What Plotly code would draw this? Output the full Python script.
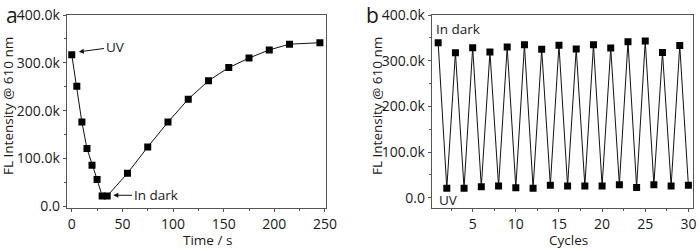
import plotly.graph_objects as go

# Panel a data
time_s = [0, 5, 10, 15, 20, 25, 30, 35, 55, 75, 95, 115, 135, 155, 175, 195, 215, 245]
fl_a = [317000, 251000, 176000, 121000, 86000, 56000, 21500, 21500, 69000, 124000,
        176000, 224000, 262500, 290000, 310000, 327000, 339000, 342000]

# Panel b data
cycles = list(range(1, 31))
fl_b = [339000, 20500, 317500, 20500, 328500, 24000, 319000, 25500, 330000, 22000,
        335000, 20500, 325000, 27000, 334000, 25500, 325500, 25500, 335000, 25500,
        328000, 28500, 341500, 22500, 343000, 28500, 318000, 25500, 333000, 27000]

ytickvals = [0, 100000, 200000, 300000, 400000]
yticktext = ["0.0", "100.0k", "200.0k", "300.0k", "400.0k"]
xticks_a = [0, 50, 100, 150, 200, 250]
xticks_b = [5, 10, 15, 20, 25, 30]

FONT = "Open Sans"
AX = "#555555"
TXT = "#1a1a1a"
W, H = 700, 251

fig = go.Figure()
fig.add_trace(go.Scatter(x=time_s, y=fl_a, mode="lines+markers",
                         line=dict(color="#111111", width=1),
                         marker=dict(symbol="square", size=7, color="#000000"),
                         xaxis="x", yaxis="y", showlegend=False))
fig.add_trace(go.Scatter(x=cycles, y=fl_b, mode="lines+markers",
                         line=dict(color="#111111", width=1),
                         marker=dict(symbol="square", size=7, color="#000000"),
                         xaxis="x2", yaxis="y2", showlegend=False))

axcommon = dict(showline=True, linecolor=AX, linewidth=1, mirror=True,
                ticks="outside", ticklen=3, tickcolor=AX, showgrid=False,
                zeroline=False, automargin=False,
                tickfont=dict(size=14, color=TXT, family=FONT))

fig.update_layout(
    width=W, height=H,
    margin=dict(l=0, r=0, t=0, b=0, pad=0, autoexpand=False),
    paper_bgcolor="white", plot_bgcolor="white",
    font=dict(family=FONT, size=13, color=TXT),
    xaxis=dict(domain=[66.7 / W, 326 / W], range=[-5, 251], tickvals=xticks_a,
               minor=dict(ticks="outside", dtick=25, tick0=0, ticklen=2, tickcolor=AX),
               anchor="y", **axcommon),
    yaxis=dict(domain=[1 - 207.7 / H, 1 - 15 / H], range=[-3000, 400000], tickvals=ytickvals,
               ticktext=yticktext,
               minor=dict(ticks="outside", dtick=50000, tick0=0, ticklen=2, tickcolor=AX),
               anchor="x", **axcommon),
    xaxis2=dict(domain=[431.7 / W, 692.7 / W], range=[0.25, 30.5], tickvals=xticks_b,
                minor=dict(ticks="outside", dtick=2.5, tick0=0, ticklen=2, tickcolor=AX),
                anchor="y2", **axcommon),
    yaxis2=dict(domain=[1 - 208 / H, 1 - 15 / H], range=[-22600, 400000], tickvals=ytickvals,
                ticktext=yticktext,
                minor=dict(ticks="outside", dtick=50000, tick0=0, ticklen=2, tickcolor=AX),
                anchor="x2", **axcommon),
)

def paper_text(px, py, text, size=13.5, angle=0):
    fig.add_annotation(x=px / W, y=1 - py / H, xref="paper", yref="paper", text=text,
                       showarrow=False, xanchor="center", yanchor="middle",
                       textangle=angle, borderpad=0,
                       font=dict(size=size, color=TXT, family=FONT))

# Axis titles
paper_text(8, 106, "FL Intensity @ 610 nm", angle=-90)
paper_text(207, 240, "Time / s")
paper_text(377, 106, "FL Intensity @ 610 nm", angle=-90)
paper_text(568, 240, "Cycles")
# Panel labels
paper_text(12, 15.5, "a", size=21)
paper_text(372, 15.5, "b", size=21)

# Annotations panel a
fig.add_annotation(x=7, y=323000, ax=42.7, ay=333000, axref="x", ayref="y",
                   xref="x", yref="y", text="UV", showarrow=True, arrowhead=2,
                   arrowsize=1, arrowwidth=1, arrowcolor="#111111",
                   font=dict(size=13.5, color=TXT), standoff=0)
fig.add_annotation(x=41, y=23000, ax=82.7, ay=23000, axref="x", ayref="y",
                   xref="x", yref="y", text="In dark", showarrow=True, arrowhead=2,
                   arrowsize=1, arrowwidth=1, arrowcolor="#111111",
                   font=dict(size=13.5, color=TXT), standoff=0)
# Annotations panel b
fig.add_annotation(x=3.3, y=370000, xref="x2", yref="y2", text="In dark",
                   showarrow=False, font=dict(size=13.5, color=TXT))
fig.add_annotation(x=2.2, y=-5000, xref="x2", yref="y2", text="UV",
                   showarrow=False, font=dict(size=13.5, color=TXT))

fig.write_html("out.html", config={"displayModeBar": False},
               post_script="document.body.style.margin='0px';document.body.style.overflow='hidden';")
